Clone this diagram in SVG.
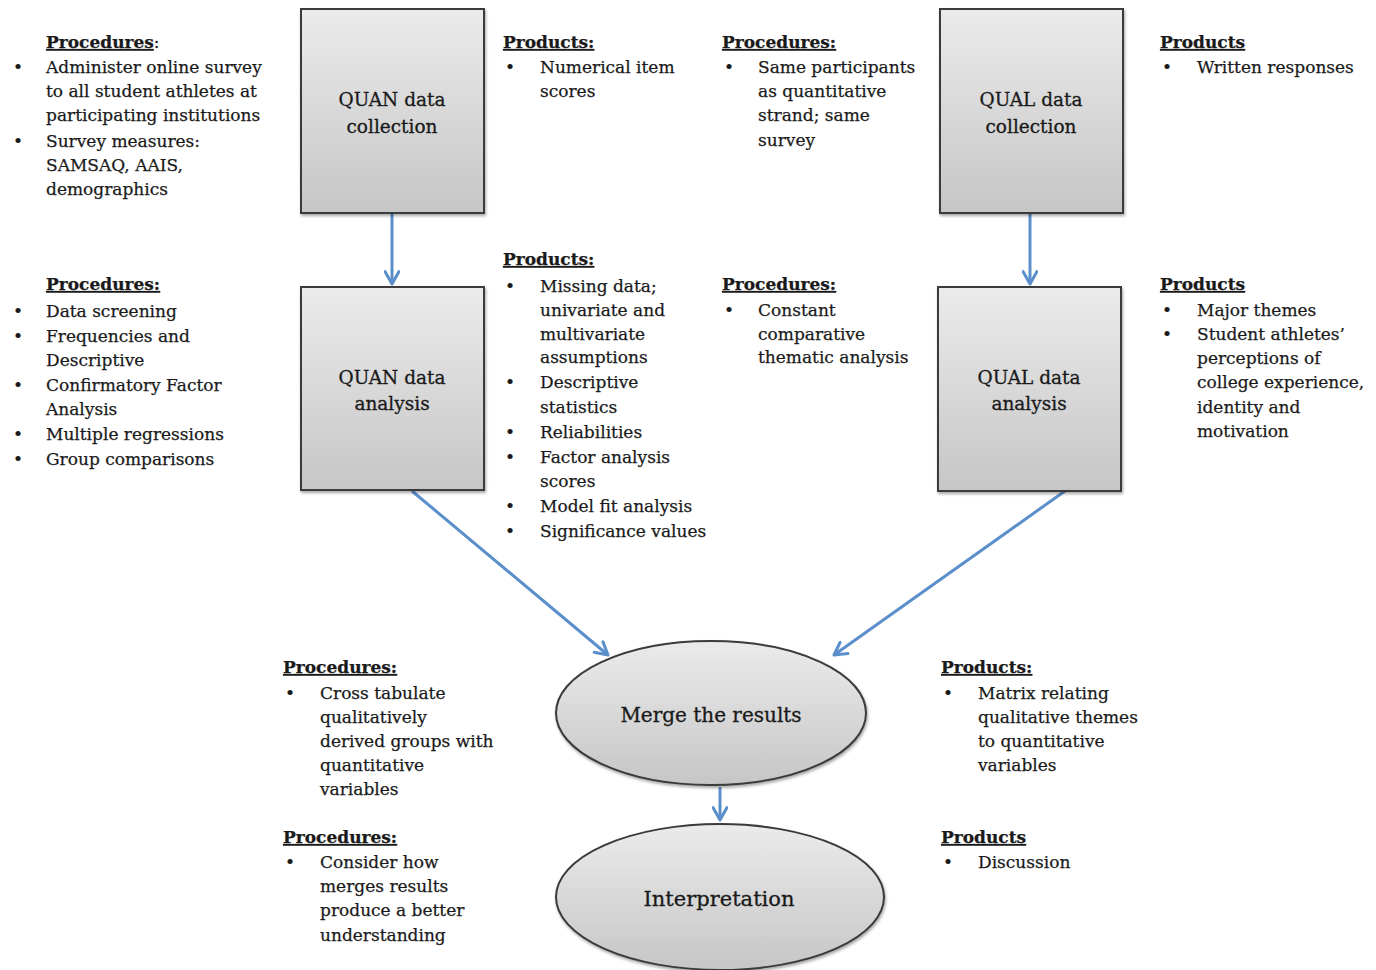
<svg xmlns="http://www.w3.org/2000/svg" width="1376" height="970" viewBox="0 0 1376 970">
<defs>
<linearGradient id="g" x1="0" y1="0" x2="0" y2="1">
<stop offset="0" stop-color="#ebebeb"/>
<stop offset="1" stop-color="#c6c6c6"/>
</linearGradient>
<filter id="sh" x="-10%" y="-10%" width="120%" height="120%">
<feDropShadow dx="1" dy="2" stdDeviation="1.5" flood-color="#000" flood-opacity="0.35"/>
</filter>
<marker id="ah" viewBox="0 0 12 12" refX="10" refY="6" markerWidth="5.5" markerHeight="5.5" orient="auto" markerUnits="strokeWidth">
<path d="M1,1 L10,6 L1,11" fill="none" stroke="#5b8fcb" stroke-width="2.2" stroke-linecap="round" stroke-linejoin="round"/>
</marker>
<style>
.box{fill:url(#g);stroke:#3a3a3a;stroke-width:2;filter:url(#sh)}
.lbl{font-family:"DejaVu Serif","Liberation Serif",serif;font-size:18.5px;fill:#1a1a1a;stroke:#1a1a1a;stroke-width:0.3;text-anchor:middle}
.big{font-size:20px}
.big2{font-size:21px}
.t{font-family:"DejaVu Serif","Liberation Serif",serif;font-size:17px;fill:#1a1a1a;stroke:#1a1a1a;stroke-width:0.25}
.h{font-weight:bold;text-decoration:underline}
.con{stroke:#5b8fcb;stroke-width:3;fill:none;marker-end:url(#ah)}
</style>
</defs>
<rect width="1376" height="970" fill="#fff"/>

<g id="connectors">
<line class="con" x1="392" y1="214" x2="392" y2="284"/>
<line class="con" x1="1030" y1="214" x2="1030" y2="284"/>
<line class="con" x1="412" y1="491" x2="608" y2="655"/>
<line class="con" x1="1065" y1="491" x2="834" y2="655"/>
<line class="con" x1="720" y1="787" x2="720" y2="820"/>
</g>

<g id="quan-collection">
<rect class="box" x="301" y="9" width="183" height="204"/>
<text class="lbl"><tspan x="392" y="106">QUAN data</tspan><tspan x="392" y="133">collection</tspan></text>
</g>
<g id="quan-analysis">
<rect class="box" x="301" y="287" width="183" height="203"/>
<text class="lbl"><tspan x="392" y="384">QUAN data</tspan><tspan x="392" y="410">analysis</tspan></text>
</g>
<g id="qual-collection">
<rect class="box" x="940" y="9" width="183" height="204"/>
<text class="lbl"><tspan x="1031" y="106">QUAL data</tspan><tspan x="1031" y="133">collection</tspan></text>
</g>
<g id="qual-analysis">
<rect class="box" x="938" y="287" width="183" height="204"/>
<text class="lbl"><tspan x="1029" y="384">QUAL data</tspan><tspan x="1029" y="410">analysis</tspan></text>
</g>
<g id="merge">
<ellipse class="box" cx="711" cy="713" rx="155" ry="72"/>
<text class="lbl big" x="711" y="722">Merge the results</text>
</g>
<g id="interpretation">
<ellipse class="box" cx="720" cy="897" rx="164" ry="73"/>
<text class="lbl big2" x="719" y="906">Interpretation</text>
</g>

<g id="notes-quan-collection-procedures" class="t">
<text x="46" y="48"><tspan class="h">Procedures</tspan>:</text>
<text x="13" y="73">•</text><text x="46" y="73">Administer online survey</text>
<text x="46" y="97">to all student athletes at</text>
<text x="46" y="121">participating institutions</text>
<text x="13" y="147">•</text><text x="46" y="147">Survey measures:</text>
<text x="46" y="171">SAMSAQ, AAIS,</text>
<text x="46" y="195">demographics</text>
</g>

<g id="notes-quan-analysis-procedures" class="t">
<text x="46" y="290" class="h">Procedures:</text>
<text x="13" y="317">•</text><text x="46" y="317">Data screening</text>
<text x="13" y="342">•</text><text x="46" y="342">Frequencies and</text>
<text x="46" y="366">Descriptive</text>
<text x="13" y="391">•</text><text x="46" y="391">Confirmatory Factor</text>
<text x="46" y="415">Analysis</text>
<text x="13" y="440">•</text><text x="46" y="440">Multiple regressions</text>
<text x="13" y="465">•</text><text x="46" y="465">Group comparisons</text>
</g>

<g id="notes-quan-collection-products" class="t">
<text x="503" y="48" class="h">Products:</text>
<text x="505" y="73">•</text><text x="540" y="73">Numerical item</text>
<text x="540" y="97">scores</text>
</g>

<g id="notes-quan-analysis-products" class="t">
<text x="503" y="265" class="h">Products:</text>
<text x="505" y="292">•</text><text x="540" y="292">Missing data;</text>
<text x="540" y="316">univariate and</text>
<text x="540" y="340">multivariate</text>
<text x="540" y="363">assumptions</text>
<text x="505" y="388">•</text><text x="540" y="388">Descriptive</text>
<text x="540" y="413">statistics</text>
<text x="505" y="438">•</text><text x="540" y="438">Reliabilities</text>
<text x="505" y="463">•</text><text x="540" y="463">Factor analysis</text>
<text x="540" y="487">scores</text>
<text x="505" y="512">•</text><text x="540" y="512">Model fit analysis</text>
<text x="505" y="537">•</text><text x="540" y="537">Significance values</text>
</g>

<g id="notes-qual-collection-procedures" class="t">
<text x="722" y="48" class="h">Procedures:</text>
<text x="724" y="73">•</text><text x="758" y="73">Same participants</text>
<text x="758" y="97">as quantitative</text>
<text x="758" y="121">strand; same</text>
<text x="758" y="146">survey</text>
</g>

<g id="notes-qual-analysis-procedures" class="t">
<text x="722" y="290" class="h">Procedures:</text>
<text x="724" y="316">•</text><text x="758" y="316">Constant</text>
<text x="758" y="340">comparative</text>
<text x="758" y="363">thematic analysis</text>
</g>

<g id="notes-qual-collection-products" class="t">
<text x="1160" y="48" class="h">Products</text>
<text x="1162" y="73">•</text><text x="1197" y="73">Written responses</text>
</g>

<g id="notes-qual-analysis-products" class="t">
<text x="1160" y="290" class="h">Products</text>
<text x="1162" y="316">•</text><text x="1197" y="316">Major themes</text>
<text x="1162" y="340">•</text><text x="1197" y="340">Student athletes’</text>
<text x="1197" y="364">perceptions of</text>
<text x="1197" y="388">college experience,</text>
<text x="1197" y="413">identity and</text>
<text x="1197" y="437">motivation</text>
</g>

<g id="notes-merge-procedures" class="t">
<text x="283" y="673" class="h">Procedures:</text>
<text x="285" y="699">•</text><text x="320" y="699">Cross tabulate</text>
<text x="320" y="723">qualitatively</text>
<text x="320" y="747">derived groups with</text>
<text x="320" y="771">quantitative</text>
<text x="320" y="795">variables</text>
</g>

<g id="notes-interpretation-procedures" class="t">
<text x="283" y="843" class="h">Procedures:</text>
<text x="285" y="868">•</text><text x="320" y="868">Consider how</text>
<text x="320" y="892">merges results</text>
<text x="320" y="916">produce a better</text>
<text x="320" y="941">understanding</text>
</g>

<g id="notes-merge-products" class="t">
<text x="941" y="673" class="h">Products:</text>
<text x="943" y="699">•</text><text x="978" y="699">Matrix relating</text>
<text x="978" y="723">qualitative themes</text>
<text x="978" y="747">to quantitative</text>
<text x="978" y="771">variables</text>
</g>

<g id="notes-interpretation-products" class="t">
<text x="941" y="843" class="h">Products</text>
<text x="943" y="868">•</text><text x="978" y="868">Discussion</text>
</g>
</svg>
